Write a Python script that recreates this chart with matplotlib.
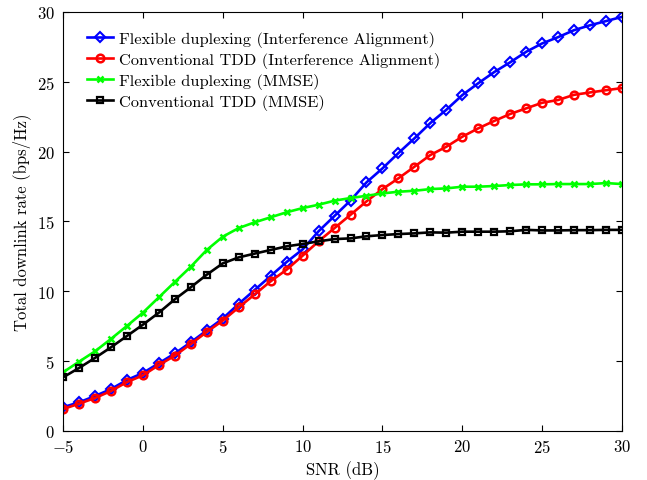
import matplotlib
matplotlib.use("Agg")
import matplotlib.pyplot as plt
import numpy as np

# SNR values (dB)
snr = np.arange(-5, 31)

flex_ia = [1.7, 2.05, 2.5, 3.0, 3.65, 4.15, 4.85, 5.55, 6.35, 7.2, 8.05, 9.1,
           10.1, 11.1, 12.1, 13.0, 14.3, 15.4, 16.5, 17.8, 18.8, 19.9, 20.95, 22.05,
           23.0, 24.05, 24.9, 25.7, 26.4, 27.15, 27.75, 28.2, 28.7, 29.05, 29.35, 29.65]
tdd_ia = [1.57, 1.95, 2.36, 2.86, 3.5, 3.98, 4.72, 5.39, 6.23, 7.09, 7.9, 8.85,
          9.78, 10.72, 11.55, 12.55, 13.58, 14.53, 15.48, 16.44, 17.32, 18.09, 18.92, 19.76,
          20.35, 21.07, 21.67, 22.2, 22.7, 23.1, 23.5, 23.7, 24.07, 24.24, 24.4, 24.55]
flex_mmse = [4.2, 4.96, 5.7, 6.59, 7.52, 8.47, 9.57, 10.67, 11.76, 12.96, 13.91, 14.53,
             14.94, 15.3, 15.66, 15.96, 16.2, 16.49, 16.68, 16.84, 17.01, 17.13, 17.2, 17.32,
             17.37, 17.49, 17.49, 17.54, 17.61, 17.66, 17.66, 17.68, 17.68, 17.68, 17.75, 17.68]
tdd_mmse = [3.84, 4.51, 5.23, 5.99, 6.8, 7.61, 8.47, 9.43, 10.29, 11.19, 12.0, 12.43,
            12.7, 12.96, 13.22, 13.39, 13.58, 13.74, 13.79, 13.94, 14.03, 14.1, 14.15, 14.22,
            14.2, 14.27, 14.27, 14.27, 14.3, 14.4, 14.36, 14.36, 14.38, 14.38, 14.4, 14.4]

labels = ["Flexible duplexing (Interference Alignment)",
          "Conventional TDD (Interference Alignment)",
          "Flexible duplexing (MMSE)",
          "Conventional TDD (MMSE)"]

plt.rcParams['font.family'] = 'cmr10'
plt.rcParams['mathtext.fontset'] = 'cm'
plt.rcParams['axes.formatter.use_mathtext'] = True

fig = plt.figure(figsize=(6.47, 4.81), dpi=100)
ax = fig.add_axes([0.0974, 0.1019, 0.864, 0.8711])

lw = 1.9
ax.plot(snr, flex_ia, color='blue', marker='D', ms=5, mfc='none', mew=1.5, lw=lw, label=labels[0])
ax.plot(snr, tdd_ia, color='red', marker='o', ms=5.5, mfc='none', mew=1.8, lw=lw, label=labels[1])
ax.plot(snr, flex_mmse, color='#00ff00', marker='x', ms=5, mew=1.8, lw=lw, label=labels[2])
ax.plot(snr, tdd_mmse, color='black', marker='s', ms=5, mfc='none', mew=1.6, lw=lw, label=labels[3])

ax.set_xlim(-5, 30)
ax.set_ylim(0, 30)
ax.set_xticks([-5, 0, 5, 10, 15, 20, 25, 30])
ax.set_yticks([0, 5, 10, 15, 20, 25, 30])
ax.tick_params(direction='in', top=True, right=True, labelsize=12, length=4)
ax.tick_params(axis='x', pad=5)
ax.tick_params(axis='y', pad=6)
ax.set_xlabel("SNR (dB)", fontsize=12, labelpad=4)
ax.set_ylabel("Total downlink rate (bps/Hz)", fontsize=12, labelpad=4)

ax.legend(loc='upper left', bbox_to_anchor=(0.016, 0.99), frameon=False, fontsize=11.8,
          handlelength=1.6, handletextpad=0.36, labelspacing=0.3, borderaxespad=0.5)

fig.savefig("out.png", dpi=100)
